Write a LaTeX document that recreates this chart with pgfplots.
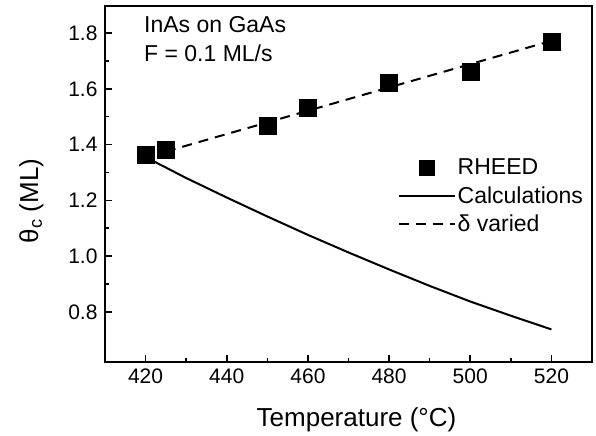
\documentclass[border=0pt]{standalone}
\usepackage{fontspec}
\setmainfont{Liberation Sans}
\usepackage{pgfplots}
\pgfplotsset{compat=1.18}
\begin{document}
\begin{tikzpicture}
\useasboundingbox (-105bp,-74bp) rectangle (491bp,362bp);
\begin{axis}[
  at={(0,0)}, anchor=south west,
  scale only axis,
  width=487bp, height=356bp,
  xmin=410, xmax=530, ymin=0.62, ymax=1.897,
  xtick={420,440,...,520}, ytick={0.8,1.0,...,1.8},
  minor x tick num=1, minor y tick num=1,
  tick pos=left, tick align=inside,
  major tick length=7bp, minor tick length=4bp,
  every tick/.style={line width=1.6bp, black},
  axis line style={line width=1.8bp},
  /pgf/number format/assume math mode=true,
  /pgf/number format/fixed, /pgf/number format/fixed zerofill,
  yticklabel style={/pgf/number format/precision=1, font=\fontsize{21bp}{23bp}\selectfont, xshift=-4bp},
  xticklabel style={/pgf/number format/precision=0, font=\fontsize{21bp}{23bp}\selectfont, yshift=-3bp},
  scaled ticks=false,
  xlabel={Temperature (°C)},
  ylabel={θ\textsubscript{c} (ML)},
  xlabel style={font=\fontsize{26bp}{28bp}\selectfont, at={(rel axis cs:0.5,0)}, anchor=north, yshift=-42bp, xshift=8bp},
  ylabel style={font=\fontsize{26bp}{28bp}\selectfont, at={(rel axis cs:0,0.452)}, anchor=south, yshift=58bp},
  legend cell align=left,
  legend style={draw=none, fill=none, at={(0.986,0.577)}, anchor=north east,
    font=\fontsize{23bp}{25bp}\selectfont, row sep=6.5bp, inner sep=0pt},
  legend image code/.code={\draw[#1] (0bp,0bp) -- (56bp,0bp);},
]
\addplot[only marks, mark=square*, mark size=8.5bp, black,
  legend image code/.code={\draw[only marks, mark=square*, mark size=7.5bp, black] plot coordinates {(28bp,0bp)};}]
  coordinates {(420,1.362) (425,1.38) (450,1.467) (460,1.533) (480,1.621) (500,1.662) (520,1.768)};
\addlegendentry{RHEED}
\addplot[black, line width=2bp] coordinates {
 (420,1.355) (430,1.28) (440,1.21) (450,1.142) (460,1.076) (470,1.013) (480,0.952) (490,0.893) (500,0.837) (510,0.786) (520,0.737)};
\addlegendentry{Calculations}
\addplot[black, line width=2bp, dash pattern=on 10bp off 7bp] coordinates {(425,1.375) (520,1.772)};
\addlegendentry{δ varied}
\node[anchor=north west, align=left, inner sep=0pt, font=\fontsize{23bp}{29bp}\selectfont]
  at (axis cs:419.6,1.86) {InAs on GaAs\\F = 0.1 ML/s};
\end{axis}
\end{tikzpicture}
\end{document}
